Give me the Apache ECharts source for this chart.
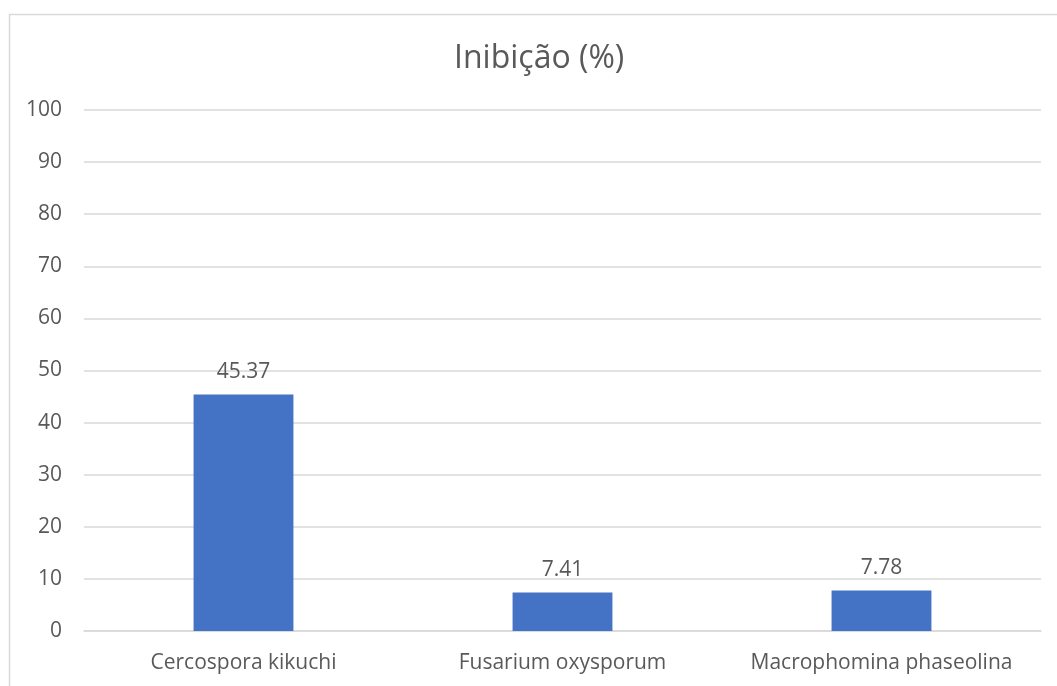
<!DOCTYPE html>
<html>
<head>
<meta charset="utf-8">
<script src="https://cdn.jsdelivr.net/npm/echarts@6/dist/echarts.min.js"></script>
<style>
  html, body { margin: 0; padding: 0; background: #ffffff; }
  #chart { width: 1057px; height: 686px; }
</style>
</head>
<body>
<div id="chart"></div>
<script>
// Fungal growth inhibition per species
const categories = ['Cercospora kikuchi', 'Fusarium oxysporum', 'Macrophomina phaseolina'];
const inhibition = [45.37, 7.41, 7.78];
const yTicks = { min: 0, max: 100, interval: 10 };

const FONT = '"Open Sans", Lato, sans-serif';
const TEXT = '#595959';
const GRID = '#d9d9d9';

const chart = echarts.init(document.getElementById('chart'), null, { renderer: 'canvas' });
chart.setOption({
  animation: false,
  backgroundColor: '#ffffff',
  graphic: [{
    type: 'rect',
    left: 7, top: 12,
    shape: { width: 1100, height: 720 },
    style: { fill: 'none', stroke: GRID, lineWidth: 1.5 },
    silent: true
  }],
  title: {
    text: 'Inibição (%)',
    left: 449,
    top: 38,
    textStyle: { fontFamily: FONT, fontSize: 32, fontWeight: 'normal', color: TEXT }
  },
  grid: { left: 84, right: 16, top: 110, bottom: 55, containLabel: false },
  xAxis: {
    type: 'category',
    data: categories,
    axisLine: { show: true, lineStyle: { color: GRID, width: 1.5 } },
    axisTick: { show: false },
    axisLabel: { color: TEXT, fontFamily: FONT, fontSize: 21, margin: 22, interval: 0, hideOverlap: false }
  },
  yAxis: {
    type: 'value',
    min: yTicks.min, max: yTicks.max, interval: yTicks.interval,
    axisLine: { show: false },
    axisTick: { show: false },
    axisLabel: { color: TEXT, fontFamily: FONT, fontSize: 21, margin: 22 },
    splitLine: { lineStyle: { color: GRID, width: 1.5 } }
  },
  series: [{
    type: 'bar',
    data: inhibition,
    barWidth: '31.3%',
    itemStyle: { color: '#4472C4' },
    label: {
      show: true,
      position: 'top',
      distance: 12,
      color: TEXT,
      fontFamily: FONT,
      fontSize: 21,
      formatter: p => p.value.toFixed(2)
    }
  }]
});
</script>
</body>
</html>
